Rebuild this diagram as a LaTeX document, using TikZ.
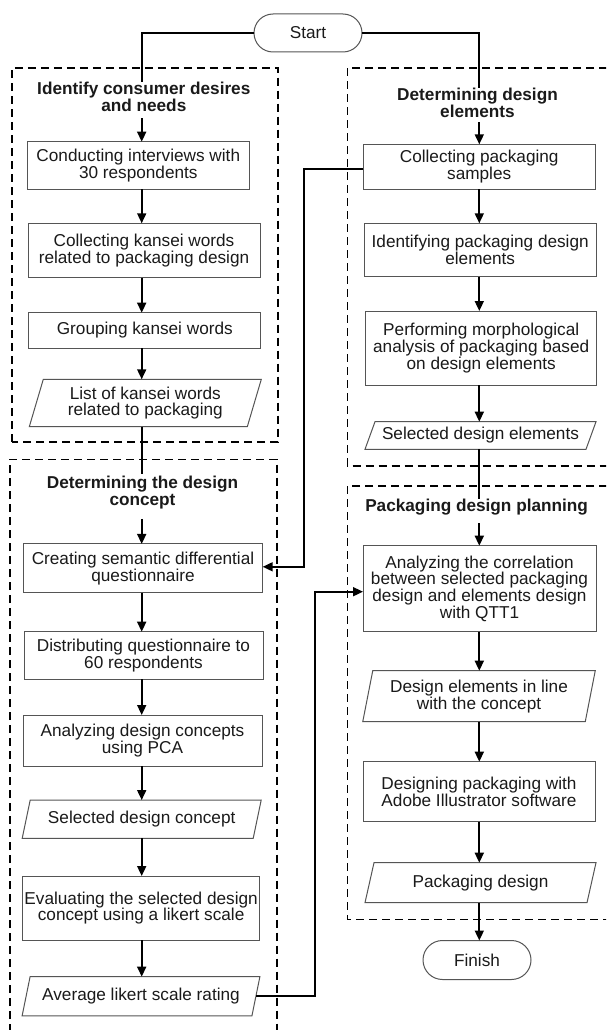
\documentclass[tikz,border=0pt]{standalone}
\usepackage{fontspec}
\setmainfont{Liberation Sans}
\usetikzlibrary{arrows.meta,shapes.misc}
\definecolor{boxgray}{HTML}{555555}
\definecolor{txt}{HTML}{1A1A1A}
\newcommand\drawpara[2]{\draw[pline] ([xshift=#2]#1.north west) -- ([xshift=#2]#1.north east) -- ([xshift=-#2]#1.south east) -- ([xshift=-#2]#1.south west) -- cycle;}
\begin{document}
\begin{tikzpicture}[x=1pt,y=-1pt,
  every node/.style={font=\fontsize{17.2}{16.8}\selectfont, text=txt, outer sep=0pt, inner sep=1pt, align=center},
  box/.style={draw=boxgray, line width=1pt, fill=white},
  para/.style={},
  pline/.style={draw=boxgray, line width=1pt},
  term/.style={rounded rectangle, draw=boxgray, line width=1pt, fill=white},
  ttl/.style={anchor=north, inner sep=0pt, font=\bfseries\fontsize{17.2}{16.8}\selectfont},
  conn/.style={draw=black, line width=1.7pt},
  arr/.style={conn, -{Triangle[length=10pt,width=9pt]}},
  grp/.style={draw=black, line width=1.6pt, dash pattern=on 8pt off 5pt}
]
\useasboundingbox (0,0) rectangle (606,1030);
\clip (0,0) rectangle (606,1030);
\fill[white] (0,0) rectangle (606,1030);

% group frames
\draw[grp] (11.7,441.7) rectangle (278,67.8);
\draw[grp] (10,1045) -- (10,459.3) -- (277,459.3) -- (277,1045);
\draw[grp] (620,68) -- (347.3,68) -- (347.3,466) -- (620,466);
\draw[grp] (620,486) -- (347.3,486) -- (347.3,919.3) -- (620,919.3);

% column coordinates
\coordinate (colL) at (141.7,0);
\coordinate (colR) at (479.3,0);
\coordinate (vx1) at (304,0);
\coordinate (vx2) at (315,0);

% terminals
\node[term, minimum width=110pt, minimum height=38pt] (start) at (308,33) {Start};
\node[term, minimum width=110pt, minimum height=39pt] (finish) at (477,960) {Finish};

% titles
\node[ttl] (tA) at (143.8,82) {Identify consumer desires\\and needs};
\node[ttl] (tB) at (142.5,476) {Determining the design\\concept};
\node[ttl] (tC) at (477.5,88) {Determining design\\elements};
\node[ttl] (tD) at (476.6,499) {Packaging design planning};

% left column
\node[box, minimum width=222pt, minimum height=47.6pt] (conduct) at (138.3,165.5) {Conducting interviews with\\30 respondents};
\node[box, minimum width=232pt, minimum height=54.4pt] (collkw) at (144,250.5) {Collecting kansei words\\related to packaging design};
\node[box, minimum width=231.7pt, minimum height=35.6pt] (group) at (144.8,330.5) {Grouping kansei words};
\node[para, minimum width=218pt, minimum height=47.4pt] (list) at (145.3,403) {List of kansei words\\related to packaging};
\drawpara{list}{7pt}
\node[box, minimum width=239.4pt, minimum height=48.7pt] (create) at (143,568.3) {Creating semantic differential\\questionnaire};
\node[box, minimum width=239pt, minimum height=47.6pt] (distrib) at (143.5,655.5) {Distributing questionnaire to\\60 respondents};
\node[box, minimum width=239pt, minimum height=51pt] (pca) at (142.5,740.5) {Analyzing design concepts\\using PCA};
\node[para, minimum width=231pt, minimum height=38.3pt] (selconc) at (141.7,819.2) {Selected design concept};
\drawpara{selconc}{4pt}
\node[box, minimum width=237.6pt, minimum height=64pt] (eval) at (141.1,908) {Evaluating the selected design\\concept using a likert scale};
\node[para, minimum width=229.8pt, minimum height=39.3pt] (avg) at (141,996.3) {Average likert scale rating};
\drawpara{avg}{4pt}

% right column
\node[box, minimum width=231.7pt, minimum height=45pt] (collpack) at (479.2,166.8) {Collecting packaging\\samples};
\node[box, minimum width=231.7pt, minimum height=53.4pt] (ident) at (480.2,250) {Identifying packaging design\\elements};
\node[box, minimum width=231pt, minimum height=74pt] (perform) at (481.2,348) {Performing morphological\\analysis of packaging based\\on design elements};
\node[para, minimum width=221pt, minimum height=27.6pt] (selel) at (480.5,435.5) {Selected design elements};
\drawpara{selel}{5pt}
\node[box, minimum width=233pt, minimum height=86pt] (analyze) at (479.5,588.7) {Analyzing the correlation\\between selected packaging\\design and elements design\\with QTT1};
\node[para, minimum width=222.5pt, minimum height=51pt] (inline) at (479,696.2) {Design elements in line\\with the concept};
\drawpara{inline}{5pt}
\node[box, minimum width=232pt, minimum height=60pt] (designing) at (479,791.7) {Designing packaging with\\Adobe Illustrator software};
\node[para, minimum width=222pt, minimum height=40pt] (pkgdes) at (480.5,882.7) {Packaging design};
\drawpara{pkgdes}{4.5pt}

% connectors left
\draw[conn] (start.west) -| (tA.north -| colL);
\draw[arr, shorten <=7pt] (tA.south -| colL) -- (conduct.north -| colL);
\draw[arr] (conduct.south -| colL) -- (collkw.north -| colL);
\draw[arr] (collkw.south -| colL) -- (group.north -| colL);
\draw[arr] (group.south -| colL) -- (list.north -| colL);
\draw[conn] (list.south -| colL) -- ([yshift=2pt]tB.north -| colL);
\draw[arr, shorten <=10pt] (tB.south -| colL) -- (create.north -| colL);
\draw[arr] (create.south -| colL) -- (distrib.north -| colL);
\draw[arr] (distrib.south -| colL) -- (pca.north -| colL);
\draw[arr] (pca.south -| colL) -- (selconc.north -| colL);
\draw[arr] (selconc.south -| colL) -- (eval.north -| colL);
\draw[arr] (eval.south -| colL) -- (avg.north -| colL);

% connectors right
\draw[conn] (start.east) -| (tC.north -| colR);
\draw[arr, shorten <=5pt] (tC.south -| colR) -- (collpack.north -| colR);
\draw[arr] (collpack.south -| colR) -- (ident.north -| colR);
\draw[arr] (ident.south -| colR) -- (perform.north -| colR);
\draw[arr] (perform.south -| colR) -- (selel.north -| colR);
\draw[conn] (selel.south -| colR) -- (tD.north -| colR);
\draw[arr, shorten <=8pt] (tD.south -| colR) -- (analyze.north -| colR);
\draw[arr] (analyze.south -| colR) -- (inline.north -| colR);
\draw[arr] (inline.south -| colR) -- (designing.north -| colR);
\draw[arr] (designing.south -| colR) -- (pkgdes.north -| colR);
\draw[arr] (pkgdes.south -| colR) -- (finish.north -| colR);

% cross connectors
\draw[arr] ([yshift=-2.5pt]collpack.west) -- ([yshift=-2.5pt]collpack.west -| vx1) -- ([yshift=1.5pt]create.east -| vx1) -- ([yshift=1.5pt]create.east);
\draw[arr] (avg.east) -- (avg.east -| vx2) -- ([yshift=-3pt]analyze.west -| vx2) -- ([yshift=-3pt]analyze.west);
\end{tikzpicture}
\end{document}
